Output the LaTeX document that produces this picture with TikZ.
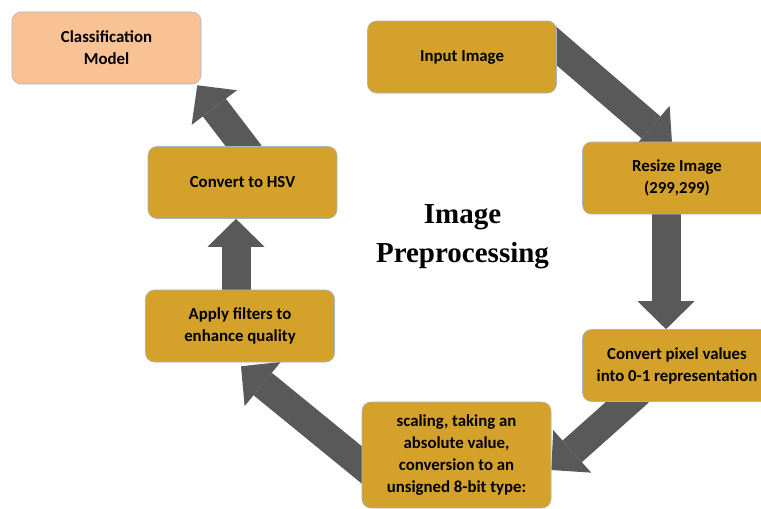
\documentclass[tikz,border=0pt]{standalone}
\usepackage{fontspec}
\setmainfont{Carlito}
\newfontfamily\titlefont{Liberation Serif}
\usetikzlibrary{arrows.meta,backgrounds}
\definecolor{gold}{HTML}{D4A22A}
\definecolor{peach}{HTML}{F9C295}
\definecolor{arrowgray}{HTML}{595959}
\definecolor{edgegray}{HTML}{A9B4C2}
\tikzset{
  box/.style={draw=edgegray, line width=0.6pt, fill=gold, rounded corners=9pt,
    minimum width=189pt, minimum height=72pt, align=center,
    font=\fontsize{16.8}{22}\selectfont\bfseries, text=black, inner sep=2pt},
  bigarrow/.style={draw=arrowgray, line width=29pt,
    -{Triangle[width=57pt,length=28pt,line width=0pt]}},
}
\begin{document}
\begin{tikzpicture}[x=1pt,y=-1pt]
\useasboundingbox (0,0) rectangle (761,509);
\node[box, fill=peach] (cls) at (106.5,48) {Classification\\Model};
\node[box] (hsv) at (242.5,182.5) {Convert to HSV};
\node[box] (inp) at (462,57) {Input Image};
\node[box] (rsz) at (677,178) {Resize Image\\(299,299)};
\node[box] (cpx) at (677,365.5) {Convert pixel values\\into 0-1 representation};
\node[box] (flt) at (240,326) {Apply filters to\\enhance quality};
\node[box, minimum height=106pt] (scl) at (456.5,455) {scaling, taking an\\absolute value,\\conversion to an\\unsigned 8-bit type:};
\node[font=\titlefont\fontsize{29}{39}\selectfont\bfseries, align=center] (title) at (462.5,237) {Image\\Preprocessing};
\begin{pgfonlayer}{background}
\fill[white] (0,0) rectangle (761,509);
\draw[bigarrow] ([shift={(-17,11)}]inp.north east) -- ([shift={(90,4)}]rsz.north west);
\draw[bigarrow] ([shift={(-11,-4)}]rsz.south) -- ([shift={(-11,0)}]cpx.north);
\draw[bigarrow] ([shift={(-38,-10)}]cpx.south) -- ([shift={(0,15)}]scl.east);
\draw[bigarrow] ([shift={(10,18)}]scl.west) -- ([shift={(1,4)}]flt.south);
\draw[bigarrow] ([shift={(-4,5)}]flt.north) -- ([shift={(-6.5,0)}]hsv.south);
\draw[bigarrow] ([shift={(7.5,8)}]hsv.north) -- ([shift={(-4,1)}]cls.south east);
\end{pgfonlayer}
\end{tikzpicture}
\end{document}
